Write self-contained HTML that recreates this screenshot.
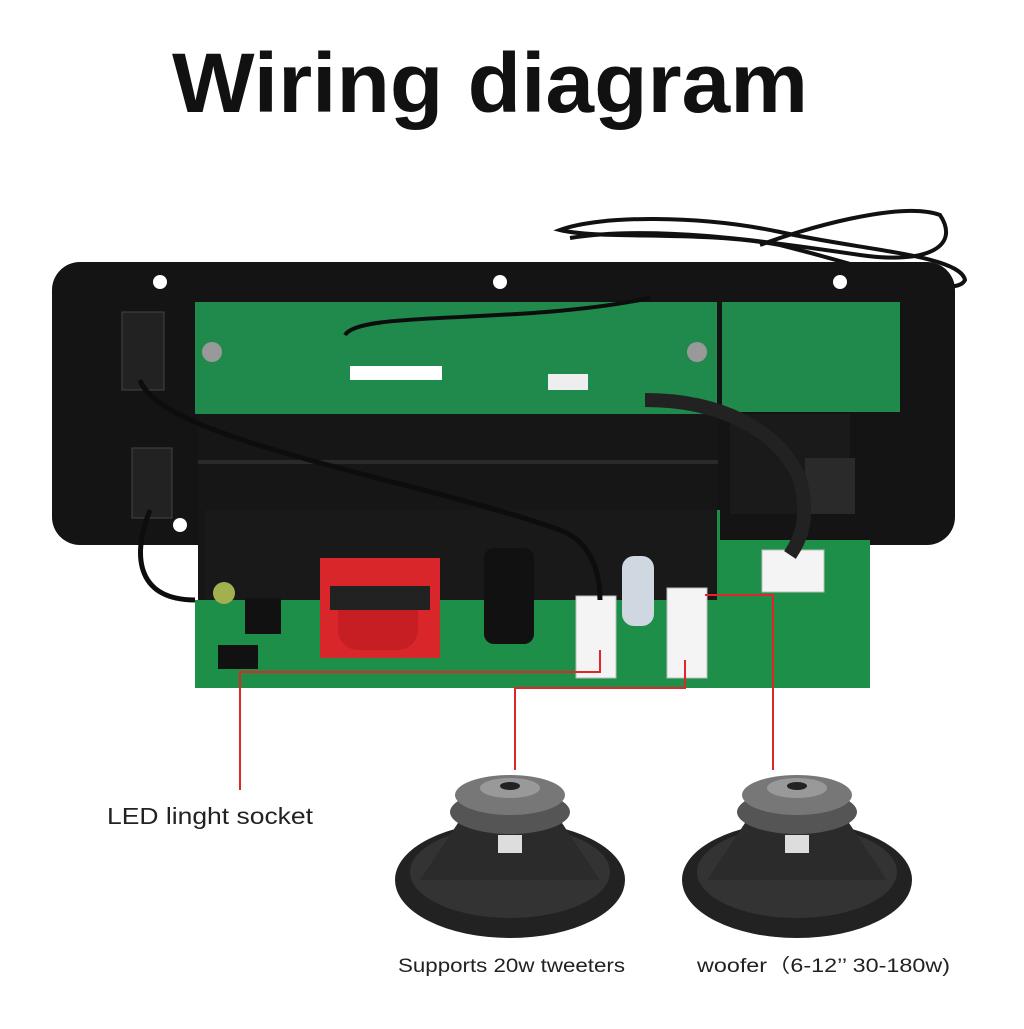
<!DOCTYPE html>
<html><head><meta charset="utf-8"><style>
body{margin:0;width:1024px;height:1024px;background:#fff;overflow:hidden;font-family:"Liberation Sans","Noto Sans CJK SC",sans-serif}
</style></head><body>
<svg width="1024" height="1024" viewBox="0 0 1024 1024" xmlns="http://www.w3.org/2000/svg">
<text x="172" y="112" textLength="636" lengthAdjust="spacingAndGlyphs" font-family="Liberation Sans, sans-serif" font-weight="bold" font-size="84" fill="#111">Wiring diagram</text>
<!-- cable top -->
<path d="M560 230 C600 215 700 215 780 232 C860 250 960 255 965 280 C955 300 880 270 780 245 C700 230 600 240 560 230Z" fill="none" stroke="#111" stroke-width="4"/>
<path d="M570 238 C650 225 760 240 860 255 C930 265 960 245 940 215 C900 200 800 230 760 245" fill="none" stroke="#111" stroke-width="4"/>
<!-- black plate -->
<rect x="52" y="262" width="903" height="283" rx="28" fill="#141414"/>
<circle cx="160" cy="282" r="7" fill="#fff"/><circle cx="500" cy="282" r="7" fill="#fff"/><circle cx="840" cy="282" r="7" fill="#fff"/>
<circle cx="180" cy="525" r="7" fill="#fff"/>
<rect x="122" y="312" width="42" height="78" fill="#222" stroke="#444"/>
<rect x="132" y="448" width="40" height="70" fill="#222" stroke="#444"/>
<rect x="195" y="302" width="522" height="112" fill="#1f8a4c"/>
<rect x="722" y="302" width="178" height="110" fill="#1f8a4c"/>
<rect x="350" y="366" width="92" height="14" fill="#fff"/>
<rect x="548" y="374" width="40" height="16" fill="#eee"/>
<circle cx="212" cy="352" r="10" fill="#999"/><circle cx="697" cy="352" r="10" fill="#999"/>
<rect x="198" y="414" width="520" height="190" fill="#161616"/>
<rect x="198" y="460" width="520" height="4" fill="#2a2a2a"/>
<rect x="730" y="414" width="120" height="100" fill="#1a1a1a"/>
<path d="M205 510 L720 510 L720 540 L870 540 L870 688 L195 688 L195 600 L205 600Z" fill="#1e8f48"/>
<rect x="205" y="510" width="512" height="90" fill="#191919"/>
<rect x="320" y="558" width="120" height="100" fill="#d8262a"/>
<rect x="338" y="590" width="80" height="60" rx="20" fill="#c61e22"/>
<rect x="330" y="586" width="100" height="24" fill="#222"/>
<rect x="484" y="548" width="50" height="96" rx="10" fill="#111"/>
<rect x="622" y="556" width="32" height="70" rx="12" fill="#cfd8e0"/>
<rect x="576" y="596" width="40" height="82" fill="#f4f4f4" stroke="#bbb"/>
<rect x="667" y="588" width="40" height="90" fill="#f4f4f4" stroke="#bbb"/>
<rect x="762" y="550" width="62" height="42" fill="#f4f4f4" stroke="#bbb"/>
<rect x="805" y="458" width="50" height="56" fill="#2a2a2a"/>
<rect x="218" y="645" width="40" height="24" fill="#111"/>
<rect x="245" y="598" width="36" height="36" fill="#111"/>
<circle cx="224" cy="593" r="11" fill="#a2b050"/>
<path d="M140 380 C160 440 420 480 560 530 C600 545 600 590 600 600" fill="none" stroke="#0d0d0d" stroke-width="5"/>
<path d="M150 510 C130 560 140 600 195 600" fill="none" stroke="#0d0d0d" stroke-width="5"/>
<path d="M345 335 C360 310 520 325 650 298" fill="none" stroke="#0d0d0d" stroke-width="4"/>
<path d="M645 400 C720 400 780 430 800 480 C810 520 800 540 790 555" fill="none" stroke="#222" stroke-width="14"/>
<g stroke="#e0262a" stroke-width="2" fill="none">
<path d="M240 790 L240 672 L600 672 L600 650"/>
<path d="M515 770 L515 688 L685 688 L685 660"/>
<path d="M773 770 L773 595 L705 595"/>
</g>
<g id="spk">
<ellipse cx="510" cy="880" rx="115" ry="58" fill="#222"/>
<ellipse cx="510" cy="872" rx="100" ry="46" fill="#333"/>
<path d="M420 880 L460 820 L560 820 L600 880Z" fill="#2b2b2b"/>
<ellipse cx="510" cy="812" rx="60" ry="22" fill="#555"/>
<ellipse cx="510" cy="795" rx="55" ry="20" fill="#777"/>
<ellipse cx="510" cy="788" rx="30" ry="10" fill="#999"/>
<ellipse cx="510" cy="786" rx="10" ry="4" fill="#222"/>
<rect x="498" y="835" width="24" height="18" fill="#ddd"/>
</g>
<use href="#spk" transform="translate(287,0)"/>
<text x="107" y="824" textLength="206" lengthAdjust="spacingAndGlyphs" font-size="23" fill="#222">LED linght socket</text>
<text x="398" y="972" textLength="227" lengthAdjust="spacingAndGlyphs" font-size="19" fill="#222">Supports 20w tweeters</text>
<text x="697" y="972" textLength="253" lengthAdjust="spacingAndGlyphs" font-size="19" fill="#222">woofer（6-12’’ 30-180w)</text>
</svg>
</body></html>
